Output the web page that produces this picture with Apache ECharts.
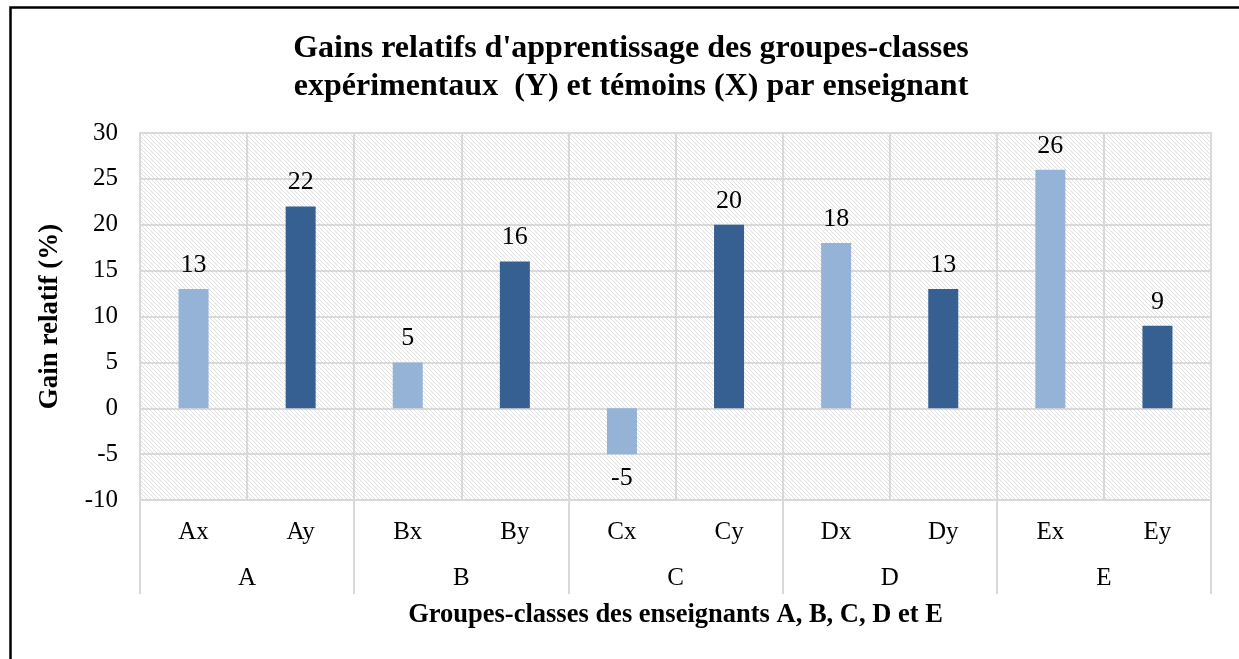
<!DOCTYPE html>
<html>
<head>
<meta charset="utf-8">
<script src="https://cdn.jsdelivr.net/npm/echarts@6/dist/echarts.min.js"></script>
<style>
  html, body { margin: 0; padding: 0; background: #fff; }
  #chart { width: 1239px; height: 659px; }
</style>
</head>
<body>
<div id="chart"></div>
<script>
// data
var classes = ['Ax', 'Ay', 'Bx', 'By', 'Cx', 'Cy', 'Dx', 'Dy', 'Ex', 'Ey'];
var teachers = ['A', 'B', 'C', 'D', 'E'];
var gains = [13, 22, 5, 16, -5, 20, 18, 13, 26, 9];

var FONT = '"Liberation Serif", "Times New Roman", serif';
var GRID_COLOR = '#d9d9d9';

// hatched background for the plot area
function makeHatch() {
  var c = document.createElement('canvas');
  c.width = 4; c.height = 4;
  var ctx = c.getContext('2d');
  var img = ctx.createImageData(4, 4);
  for (var y = 0; y < 4; y++) {
    for (var x = 0; x < 4; x++) {
      var i = (y * 4 + x) * 4;
      var on = ((x - y + 4) % 4) === 0;
      var v = on ? 224 : 255;
      img.data[i] = v; img.data[i + 1] = v; img.data[i + 2] = v; img.data[i + 3] = 255;
    }
  }
  ctx.putImageData(img, 0, 0);
  return c;
}

var barData = gains.map(function (v) {
  if (v < 0) return { value: v, label: { position: 'bottom' } };
  return v;
});

var chart = echarts.init(document.getElementById('chart'));
var option = {
  backgroundColor: '#fff',
  animation: false,
  title: {
    text: "Gains relatifs d'apprentissage des groupes-classes\nexpérimentaux  (Y) et témoins (X) par enseignant",
    left: 626,
    top: 25,
    textAlign: 'center',
    textStyle: { fontFamily: FONT, fontWeight: 'bold', fontSize: 32, lineHeight: 38, color: '#000' }
  },
  graphic: [{
    type: 'rect',
    left: 8, top: 5,
    shape: { width: 1300, height: 700 },
    style: { fill: null, stroke: '#000', lineWidth: 2.5 },
    silent: true
  }],
  grid: {
    left: 140, right: 28, top: 133, bottom: 159,
    show: true,
    backgroundColor: { image: makeHatch(), repeat: 'repeat' },
    borderColor: GRID_COLOR,
    borderWidth: 2
  },
  xAxis: [{
    type: 'category',
    data: classes,
    position: 'bottom',
    axisLine: { show: false },
    axisTick: { show: false },
    axisLabel: { interval: 0, margin: 20, fontFamily: FONT, fontSize: 25, color: '#000' },
    splitLine: { show: true, interval: 0, lineStyle: { color: GRID_COLOR, width: 2 } }
  }, {
    type: 'category',
    data: teachers,
    position: 'bottom',
    axisLine: { show: false },
    axisTick: { show: true, interval: 0, length: 94, lineStyle: { color: GRID_COLOR, width: 2 } },
    axisLabel: { interval: 0, margin: 66, fontFamily: FONT, fontSize: 25, color: '#000' },
    name: 'Groupes-classes des enseignants A, B, C, D et E',
    nameLocation: 'middle',
    nameGap: 102,
    nameTextStyle: { fontFamily: FONT, fontWeight: 'bold', fontSize: 26.5, color: '#000' }
  }],
  yAxis: {
    type: 'value',
    min: -10, max: 30, interval: 5,
    axisLine: { show: false },
    axisTick: { show: false },
    axisLabel: { margin: 22, fontFamily: FONT, fontSize: 25, color: '#000' },
    splitLine: { lineStyle: { color: GRID_COLOR, width: 2 } },
    name: 'Gain relatif (%)',
    nameLocation: 'middle',
    nameRotate: 90,
    nameGap: 76,
    nameTextStyle: { fontFamily: FONT, fontWeight: 'bold', fontSize: 27, color: '#000' }
  },
  series: [{
    type: 'bar',
    xAxisIndex: 0,
    data: barData,
    barWidth: 30,
    itemStyle: {
      color: function (p) { return p.dataIndex % 2 === 0 ? '#95b3d7' : '#366092'; }
    },
    label: {
      show: true,
      position: 'top',
      distance: 11,
      fontFamily: FONT,
      fontSize: 26,
      color: '#000'
    }
  }]
};
chart.setOption(option);
</script>
</body>
</html>
